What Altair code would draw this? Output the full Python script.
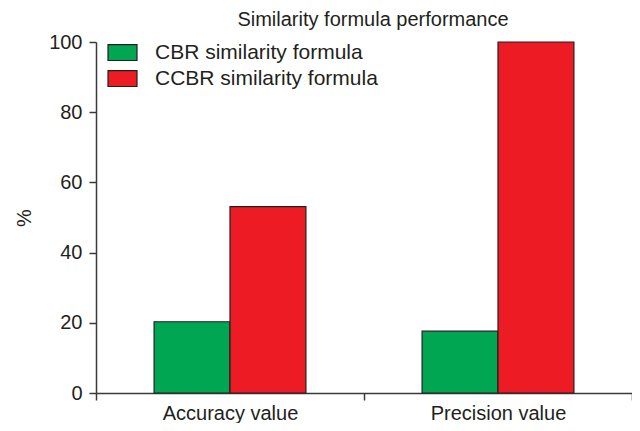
import altair as alt
import pandas as pd

metrics = ["Accuracy value", "Precision value"]
series = ["CBR similarity formula", "CCBR similarity formula"]
cbr_values = [20.3, 17.6]
ccbr_values = [53.1, 100.0]
colors = ["#00a651", "#ed1c24"]
y_ticks = [0, 20, 40, 60, 80, 100]

rows = []
for i, m in enumerate(metrics):
    rows.append({"metric": m, "series": series[0], "value": cbr_values[i]})
    rows.append({"metric": m, "series": series[1], "value": ccbr_values[i]})
df = pd.DataFrame(rows)

FONT = "Liberation Sans"
TXT = "#231f20"
AX = "#3a3a3a"

chart = (
    alt.Chart(df)
    .mark_bar(stroke="#231f20", strokeWidth=1.2)
    .encode(
        x=alt.X(
            "metric:N",
            sort=metrics,
            scale=alt.Scale(paddingInner=0, paddingOuter=0),
            axis=alt.Axis(
                title=None,
                labelAngle=0,
                tickBand="extent",
                tickSize=7,
                tickColor=AX,
                tickWidth=1.5,
                domainColor=AX,
                domainWidth=1.5,
                labelFont=FONT,
                labelFontSize=20,
                labelColor=TXT,
                labelPadding=3,
            ),
        ),
        xOffset=alt.XOffset(
            "series:N",
            sort=series,
            scale=alt.Scale(paddingOuter=0.765, paddingInner=0),
        ),
        y=alt.Y(
            "value:Q",
            scale=alt.Scale(domain=[0, 100], nice=False),
            axis=alt.Axis(
                values=y_ticks,
                title="%",
                grid=False,
                tickSize=7,
                tickColor=AX,
                tickWidth=1.5,
                domainColor=AX,
                domainWidth=1.5,
                labelFont=FONT,
                labelFontSize=20,
                labelColor=TXT,
                labelPadding=7,
                titleFont=FONT,
                titleFontSize=20,
                titleFontWeight="normal",
                titleColor=TXT,
                titleX=-62,
            ),
        ),
        color=alt.Color(
            "series:N",
            sort=series,
            scale=alt.Scale(domain=series, range=colors),
            legend=alt.Legend(
                title=None,
                orient="none",
                legendX=11,
                legendY=-5,
                padding=0,
                symbolType="M-1,-0.55 L1,-0.55 L1,0.55 L-1,0.55 Z",
                symbolSize=841,
                symbolStrokeColor="#231f20",
                symbolStrokeWidth=1.2,
                symbolOpacity=1,
                labelFont=FONT,
                labelFontSize=21,
                labelColor=TXT,
                labelOffset=17,
                rowPadding=-6,
                labelLimit=400,
            ),
        ),
    )
    .properties(
        width=536,
        height=351,
        title=alt.TitleParams(
            "Similarity formula performance",
            font=FONT,
            fontSize=20,
            fontWeight="normal",
            color=TXT,
            anchor="middle",
            dx=9,
            dy=2,
        ),
        autosize=alt.AutoSizeParams(type="none"),
        padding={"left": 88, "top": 34, "right": 0, "bottom": 30},
    )
    .configure_view(stroke=None)
)

chart.save("out.html", embed_options={"renderer": "svg", "actions": False})
